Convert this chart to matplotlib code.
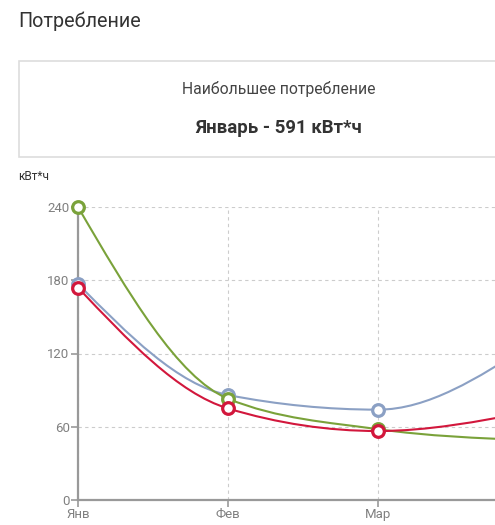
import numpy as np
import matplotlib
matplotlib.use("Agg")
import matplotlib.pyplot as plt
from matplotlib.path import Path
from matplotlib.patches import PathPatch, Rectangle

# ---- data ----
months = ["Янв", "Фев", "Мар", "Апр"]
blue_values = [177, 86, 74, 126]
green_values = [240, 83, 58, 49]
red_values = [174, 75, 56.5, 72]
y_ticks = [0, 60, 120, 180, 240]

title = "Потребление"
card_caption = "Наибольшее потребление"
card_value = "Январь - 591 кВт*ч"
unit_label = "кВт*ч"

# ---- style ----
W, H = 495, 525
plt.rcParams['font.family'] = ['Roboto', 'DejaVu Sans']
fig = plt.figure(figsize=(W / 100, H / 100), dpi=100)
fig.patch.set_facecolor("white")


def fx(px):
    return px / W


def fy(py):
    return 1 - py / H


# title and card
fig.text(fx(18), fy(21), title, fontsize=14.2, color="#333333", va="center", ha="left")
fig.patches.append(Rectangle((fx(18.5), fy(157)), fx(560), (96) / H, transform=fig.transFigure,
                             facecolor="white", edgecolor="#dddddd", linewidth=1.2))
fig.text(fx(279), fy(89), card_caption, fontsize=11.3, color="#444444", va="center", ha="center")
fig.text(fx(279), fy(128), card_value, fontsize=13.4, color="#333333", va="center", ha="center",
         fontweight="bold")
fig.text(fx(18), fy(177), unit_label, fontsize=8.6, color="#333333", va="center", ha="left")

# axes: Jan at x=78 px, spacing 150 px; y 0 at 500 px, 240 at 207 px
left_px, right_px = 78, 78 + 150 * (len(months) - 1)
bottom_px, top_px = 500, 207
ax = fig.add_axes([fx(left_px), 1 - bottom_px / H, (right_px - left_px) / W, (bottom_px - top_px) / H])
ax.set_facecolor("none")
x = np.arange(len(months))
ax.set_xlim(0, len(months) - 1)
ax.set_ylim(0, 240)
ax.set_xticks(x)
ax.set_xticklabels(months)
ax.set_yticks(y_ticks)
# the last month lies beyond the visible (cropped) area
ax.get_xticklabels()[-1].set_visible(False)

for s in ["top", "right"]:
    ax.spines[s].set_visible(False)
for s in ["left", "bottom"]:
    ax.spines[s].set_color("#999999")
    ax.spines[s].set_linewidth(1.6)
ax.tick_params(axis="both", colors="#999999", length=5, width=1.2, labelsize=9.5,
               labelcolor="#808080", pad=1)
ax.grid(True, color="#cccccc", linestyle=(0, (3, 3)), linewidth=0.8)
ax.set_axisbelow(True)


def monotone_tangents(xs, ys):
    xs = np.asarray(xs, float)
    ys = np.asarray(ys, float)
    n = len(xs)
    h = np.diff(xs)
    s = np.diff(ys) / h
    m = np.zeros(n)
    for i in range(1, n - 1):
        p = (s[i - 1] * h[i] + s[i] * h[i - 1]) / (h[i - 1] + h[i])
        m[i] = (np.sign(s[i - 1]) + np.sign(s[i])) * min(abs(s[i - 1]), abs(s[i]), 0.5 * abs(p))
    m[0] = (3 * s[0] - m[1]) / 2
    m[-1] = (3 * s[-1] - m[-2]) / 2
    return m


def smooth_path(xs, ys):
    m = monotone_tangents(xs, ys)
    verts = [(xs[0], ys[0])]
    codes = [Path.MOVETO]
    for i in range(len(xs) - 1):
        h = xs[i + 1] - xs[i]
        verts += [(xs[i] + h / 3, ys[i] + m[i] * h / 3),
                  (xs[i + 1] - h / 3, ys[i + 1] - m[i + 1] * h / 3),
                  (xs[i + 1], ys[i + 1])]
        codes += [Path.CURVE4] * 3
    return Path(verts, codes)


series = [
    (blue_values, "#8ba0c4", 3),
    (green_values, "#7aa23a", 4),
    (red_values, "#d2173c", 5),
]
for vals, color, z in series:
    patch = PathPatch(smooth_path(x, vals), facecolor="none", edgecolor=color, linewidth=1.5,
                      zorder=z)
    ax.add_patch(patch)
    ax.plot(x, vals, linestyle="none", marker="o", markersize=8.4, markerfacecolor="white",
            markeredgecolor=color, markeredgewidth=2.3, zorder=z + 0.5, clip_on=False)

fig.savefig("out.png", dpi=100, facecolor="white")
